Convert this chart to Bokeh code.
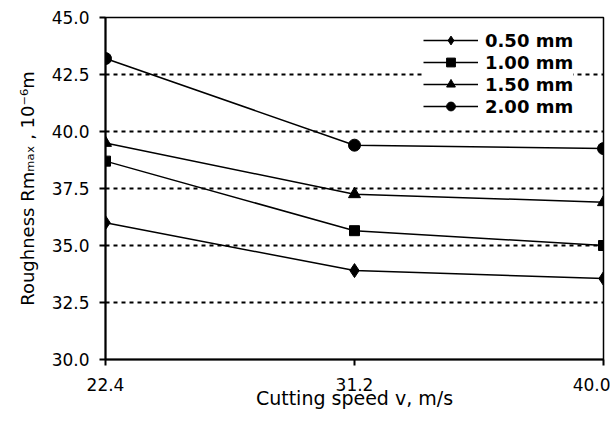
from bokeh.plotting import figure
from bokeh.embed import file_html
from bokeh.resources import INLINE
from bokeh.models import Legend, LegendItem, FixedTicker

speed = [22.4, 31.2, 40.0]
series_labels = ["0.50 mm", "1.00 mm", "1.50 mm", "2.00 mm"]
r050 = [36.0, 33.9, 33.55]
r100 = [38.7, 35.65, 35.0]
r150 = [39.5, 37.25, 36.9]
r200 = [43.2, 39.4, 39.25]
y_ticks = [30.0, 32.5, 35.0, 37.5, 40.0, 42.5, 45.0]

p = figure(width=610, height=420, output_backend="svg", toolbar_location=None,
           x_range=(22.4, 40.0), y_range=(30.0, 45.0),
           frame_width=498, frame_height=342,
           min_border_left=105, min_border_right=7, min_border_top=17, min_border_bottom=61)
p.background_fill_color = "white"
p.border_fill_color = "white"
p.outline_line_color = "black"
p.outline_line_width = 1.5

font = "DejaVu Sans"
for ax in (p.xaxis, p.yaxis):
    ax.axis_line_color = "black"
    ax.axis_line_width = 2
    ax.major_tick_line_color = "black"
    ax.major_tick_line_width = 2
    ax.major_tick_out = 6
    ax.major_tick_in = 0
    ax.minor_tick_line_color = None
    ax.major_label_text_font = font
    ax.major_label_text_font_size = "17px"
    ax.major_label_text_color = "black"
    ax.axis_label_text_font = font
    ax.axis_label_text_font_style = "normal"
    ax.axis_label_text_color = "black"

p.xaxis.ticker = FixedTicker(ticks=speed)
p.xaxis.major_label_overrides = {v: f"{v:.1f}" for v in speed}
p.xaxis.major_label_standoff = 12
p.xaxis.axis_label = "Cutting speed v, m/s"
p.xaxis.axis_label_text_font_size = "19px"
p.xaxis.axis_label_standoff = -7

p.yaxis.ticker = FixedTicker(ticks=y_ticks)
p.yaxis.major_label_overrides = {v: f"{v:.1f}" for v in y_ticks}
p.yaxis.major_label_standoff = 10
p.yaxis.axis_label = "Roughness Rm\u2098\u2090\u2093 , 10\u207b\u2076m"
p.yaxis.axis_label_text_font_size = "18px"
p.yaxis.axis_label_standoff = 11

p.xgrid.grid_line_color = None
p.ygrid.grid_line_color = "black"
p.ygrid.grid_line_width = 2
p.ygrid.grid_line_dash = "4 4"

items = []
markers = ["diamond", "square", "triangle", "circle"]
sizes = [14, 10, 12, 12]
for lab, ys, mk, sz in zip(series_labels, [r050, r100, r150, r200], markers, sizes):
    ln = p.line(speed, ys, line_color="black", line_width=1.5)
    sc = p.scatter(speed, ys, marker=mk, size=sz, fill_color="black", line_color="black")
    items.append(LegendItem(label=lab, renderers=[ln, sc]))

legend = Legend(items=items, location=(318, 242))
legend.label_text_font = font
legend.label_text_font_style = "bold"
legend.label_text_font_size = "18px"
legend.label_text_color = "black"
legend.glyph_width = 55
legend.glyph_height = 22
legend.label_height = 22
legend.spacing = 0
legend.padding = 12
legend.margin = 0
legend.border_line_color = None
legend.background_fill_color = "white"
legend.background_fill_alpha = 1.0
legend.label_standoff = 7
p.add_layout(legend, "center")

open("out.html", "w").write(file_html(p, INLINE))
